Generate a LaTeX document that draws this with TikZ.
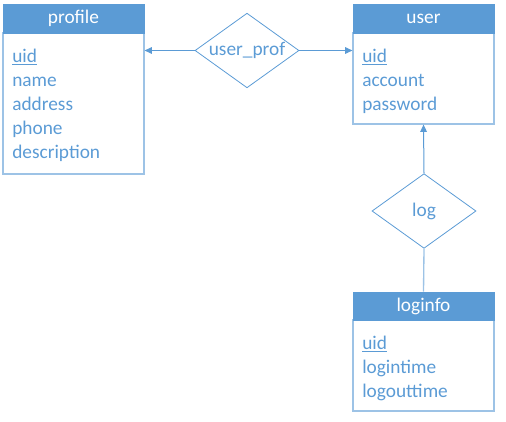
\documentclass[tikz,border=0pt]{standalone}
\usepackage{fontspec}
\setmainfont{Carlito}
\usetikzlibrary{shapes.geometric,arrows.meta}
\definecolor{hdblue}{RGB}{91,155,213}
\definecolor{lnblue}{RGB}{157,195,230}
\definecolor{txblue}{RGB}{91,155,213}
\tikzset{
  ent head/.style={rectangle,fill=hdblue,draw=hdblue,text=white,minimum width=105.75pt,inner sep=0pt,font=\fontsize{14.5}{18}\selectfont},
  ent body/.style={rectangle,draw=lnblue,line width=0.9pt,minimum width=105.75pt,inner sep=0pt},
  attr list/.style={anchor=north west,align=left,inner sep=0pt,text=txblue,font=\fontsize{14.5}{18}\selectfont},
  rel/.style={diamond,aspect=1.39,draw=hdblue,line width=0.6pt,minimum width=78pt,minimum height=56pt,inner sep=0pt,text=txblue,font=\fontsize{14.5}{18}\selectfont},
  link/.style={draw=hdblue,line width=0.75pt,-{Triangle[length=5.5pt,width=5pt]}},
}
\begin{document}
\begin{tikzpicture}[x=0.75pt,y=0.75pt,yscale=-1,xscale=1]
\useasboundingbox (0,0) rectangle (506,421);
% entities
\node[ent body,minimum height=105.75pt] (pbody) at (73.5,103.5) {};
\node[ent head,minimum height=21.75pt] (phead) at (73.5,18.5) {profile};
\node[attr list] (pattr) at (12,49) {\underline{uid}\\name\\address\\phone\\description};
\node[ent body,minimum height=68.25pt] (ubody) at (423.5,78.5) {};
\node[ent head,minimum height=21.75pt] (uhead) at (423.5,18.5) {user};
\node[attr list] (uattr) at (362,49) {\underline{uid}\\account\\password};
\node[ent body,minimum height=68.25pt] (lbody) at (423.5,365.5) {};
\node[ent head,minimum height=21pt] (lhead) at (423.5,306) {loginfo};
\node[attr list] (lattr) at (362,336) {\underline{uid}\\logintime\\logouttime};
% relations
\node[rel] (uprof) at (247,50.5) {user\_prof};
\node[rel] (log) at (424,211) {log};
\draw[link] (uprof.west) -- (uprof.west -| pbody.east);
\draw[link] (uprof.east) -- (uprof.east -| ubody.west);
\draw[link] (log.north) -- (ubody.south);
\draw[draw=lnblue,line width=1pt] (log.south) -- (lhead.north);
\end{tikzpicture}
\end{document}
